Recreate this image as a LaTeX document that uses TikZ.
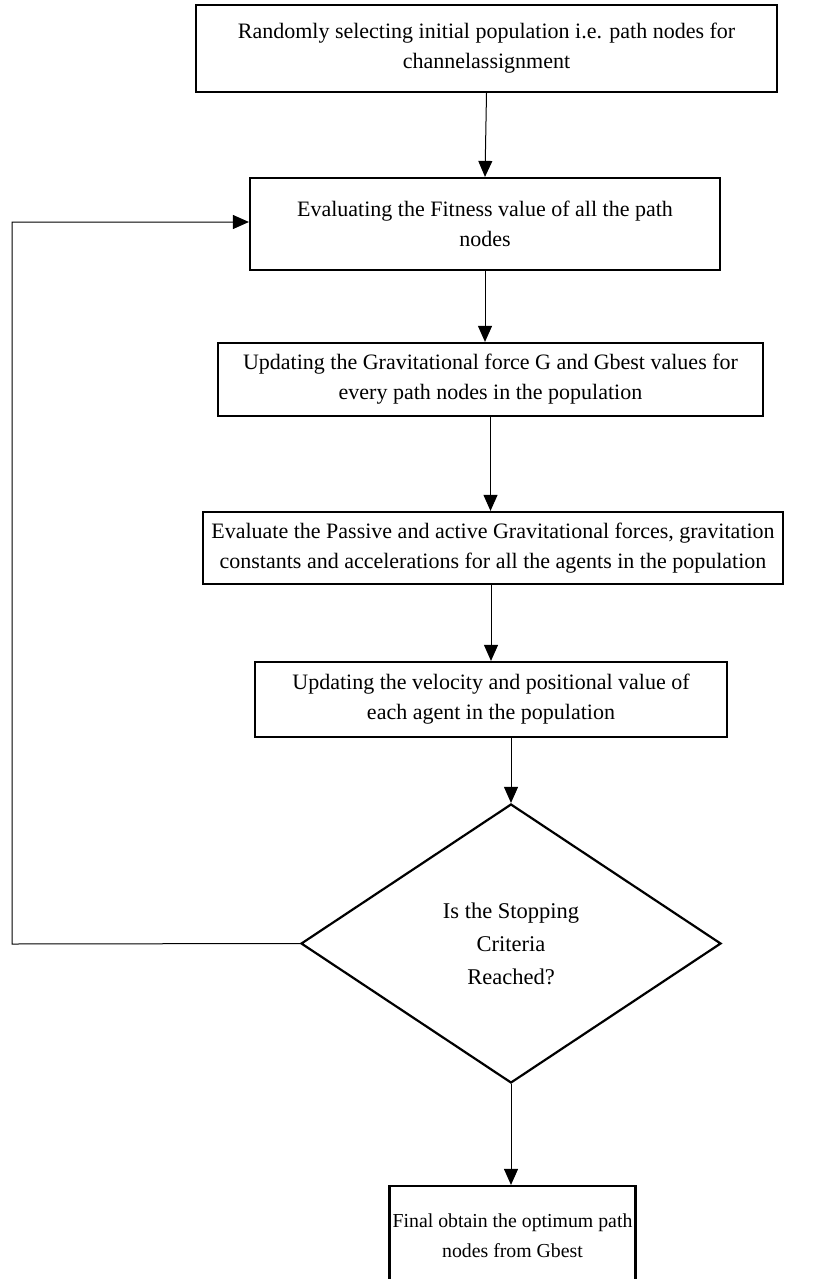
\documentclass[tikz,border=0pt]{standalone}
\usepackage{fontspec}
\setmainfont{Liberation Serif}
\usetikzlibrary{arrows.meta,shapes.geometric}
\begin{document}
\begin{tikzpicture}[x=1pt,y=1pt,
  box/.style={draw,line width=2.2pt,align=center,inner sep=0pt,
    font=\fontsize{22}{30}\selectfont},
  decision/.style={draw,shape=diamond,line width=2.2pt,align=center,inner sep=0pt,
    font=\fontsize{22.5}{33}\selectfont},
  conn/.style={line width=1pt,-{Triangle[length=16pt,width=14pt]}}]
\useasboundingbox (0,0) rectangle (834,-1279);
\clip (0,0) rectangle (834,-1279);

\node[box,minimum width=581,minimum height=87] (b1) at (486.5,-48.5)
  {Randomly selecting initial population i.e. path nodes for\\channelassignment};
\node[box,minimum width=470,minimum height=92] (b2) at (485,-224)
  {Evaluating the Fitness value of all the path\\nodes};
\node[box,minimum width=545,minimum height=73] (b3) at (490.5,-379.5)
  {Updating the Gravitational force G and Gbest values for\\every path nodes in the population};
\node[box,minimum width=580,minimum height=72] (b4) at (493,-548)
  {Evaluate the Passive and active Gravitational forces, gravitation\\constants and accelerations for all the agents in the population};
\node[box,minimum width=472,minimum height=75] (b5) at (491,-699.5)
  {Updating the velocity and positional value of\\each agent in the population};
\node[decision,minimum width=420,minimum height=279] (d) at (511,-943.5)
  {Is the Stopping\\Criteria\\Reached?};
\node[box,minimum width=246,minimum height=100,font=\fontsize{19.8}{30}\selectfont] (b6) at (512.5,-1236)
  {Final obtain the optimum path\\nodes from Gbest};

\coordinate (fbl) at (12,-944);
\coordinate (fbt) at (12,-222);

\draw[conn] (b1.south) -- (b2.north);
\draw[conn] (b2.south) -- (b3.north -| b2.south);
\draw[conn] (b3.south) -- (b4.north -| b3.south);
\draw[conn] (b4.south -| b5.north) -- (b5.north);
\draw[conn] (b5.south -| d.north) -- (d.north);
\draw[conn] (d.south) -- (b6.north -| d.south);
\draw[conn] (d.west) -- (fbl) -- (fbt) -- (b2.west |- fbt);
\end{tikzpicture}
\end{document}
